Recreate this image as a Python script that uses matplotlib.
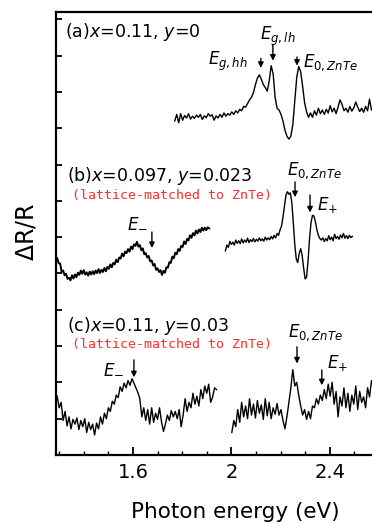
import numpy as np
import matplotlib
matplotlib.use("Agg")
import matplotlib.pyplot as plt
from matplotlib.ticker import FixedLocator, MultipleLocator

# spectra (dR/R, stacked, arbitrary units)
# (a) x=0.11, y=0
a_range = (1.770, 2.578)
a_sig = [9.20, 9.38, 9.15, 9.40, 9.22, 9.35, 9.28, 9.40, 9.25, 9.33,
         9.27, 9.36, 9.30, 9.38, 9.24, 9.34, 9.29, 9.40, 9.33, 9.37,
         9.22, 9.34, 9.28, 9.38, 9.30, 9.42, 9.33, 9.40, 9.36, 9.45,
         9.38, 9.48, 9.42, 9.52, 9.48, 9.60, 9.58, 9.68, 9.78, 9.85,
         9.98, 10.20, 10.38, 10.47, 10.35, 10.20, 10.12, 10.02, 10.30, 10.72,
         10.50, 9.85, 9.55, 9.50, 9.38, 9.20, 8.95, 8.78, 8.70, 8.78,
         9.10, 9.75, 10.40, 10.70, 10.55, 10.15, 9.70, 9.45, 9.30, 9.42,
         9.30, 9.48, 9.36, 9.55, 9.40, 9.50, 9.38, 9.52, 9.42, 9.62,
         9.45, 9.55, 9.40, 9.58, 9.78, 9.66, 9.48, 9.55, 9.44, 9.60,
         9.47, 9.56, 9.72, 9.58, 9.46, 9.55, 9.44, 9.60, 9.48, 9.80,
         9.50, 9.52]

# (b) x=0.097, y=0.023, low-energy part
b1_range = (1.292, 1.910)
b1_sig = [5.42, 5.28, 5.27, 5.04, 5.08, 4.95, 4.99, 4.85, 4.88, 4.81,
          4.95, 4.86, 4.97, 4.90, 5.02, 4.96, 5.08, 4.99, 5.09, 4.97,
          5.03, 4.94, 5.05, 4.97, 5.06, 4.98, 5.08, 5.01, 5.12, 5.01,
          5.10, 5.04, 5.15, 5.06, 5.18, 5.13, 5.25, 5.17, 5.29, 5.25,
          5.38, 5.31, 5.44, 5.41, 5.55, 5.47, 5.60, 5.56, 5.67, 5.60,
          5.74, 5.67, 5.80, 5.76, 5.87, 5.74, 5.78, 5.64, 5.69, 5.53,
          5.56, 5.44, 5.48, 5.33, 5.36, 5.22, 5.26, 5.10, 5.14, 5.04,
          5.09, 4.96, 5.07, 5.02, 5.17, 5.16, 5.31, 5.29, 5.46, 5.42,
          5.57, 5.53, 5.67, 5.62, 5.76, 5.73, 5.88, 5.81, 5.95, 5.91,
          6.05, 5.98, 6.11, 6.05, 6.18, 6.10, 6.21, 6.14, 6.26, 6.18,
          6.26, 6.19, 6.27, 6.24]

# (b) high-energy part
b2_range = (1.976, 2.492)
b2_sig = [5.62, 5.78, 5.72, 5.88, 5.80, 5.86, 5.78, 5.92, 5.83, 5.90,
          5.82, 5.95, 5.84, 5.92, 5.86, 5.97, 5.85, 5.93, 5.88, 5.96,
          5.87, 5.94, 5.89, 5.98, 5.90, 5.95, 5.89, 6.00, 5.92, 5.98,
          5.93, 6.02, 5.95, 6.05, 5.98, 6.10, 6.05, 6.20, 6.30, 6.55,
          6.85, 7.15, 7.25, 7.18, 7.22, 6.95, 6.40, 5.80, 5.40, 5.30,
          5.55, 5.68, 5.50, 5.15, 4.85, 4.90, 5.35, 5.95, 6.40, 6.60,
          6.58, 6.42, 6.20, 6.05, 5.96, 5.92, 5.98, 5.88, 5.96, 5.90,
          6.04, 5.93, 6.00, 5.90, 6.08, 5.96, 6.02, 5.94, 6.06, 5.98,
          6.10, 5.97, 6.04, 5.96, 6.05, 5.99, 6.02]

# (c) x=0.11, y=0.03, low-energy part
c1_range = (1.292, 1.940)
c1_sig = [1.62, 1.30, 1.45, 0.95, 1.20, 0.80, 1.05, 0.72, 0.98, 0.85,
          1.02, 0.70, 0.95, 0.78, 1.00, 0.62, 0.90, 0.70, 0.85, 0.55,
          0.88, 0.72, 1.05, 0.85, 1.15, 1.00, 1.30, 1.20, 1.48, 1.40,
          1.65, 1.58, 1.88, 1.75, 1.98, 1.85, 2.05, 1.92, 2.10, 1.98,
          1.85, 1.72, 1.55, 1.05, 1.30, 0.95, 1.25, 0.85, 1.30, 0.90,
          1.15, 0.98, 1.30, 0.92, 0.65, 0.85, 1.10, 0.95, 1.22, 1.05,
          1.20, 1.00, 1.25, 0.78, 1.10, 1.55, 1.20, 1.45, 1.30, 1.70,
          1.40, 1.62, 1.35, 1.80, 1.55, 1.90, 1.70, 1.95, 1.45, 1.60,
          1.85, 1.80]

# (c) high-energy part
c2_range = (2.002, 2.578)
c2_sig = [0.62, 0.95, 0.78, 1.25, 0.90, 1.45, 1.05, 1.35, 1.00, 1.55,
          1.10, 1.40, 1.02, 1.50, 1.15, 1.38, 0.98, 1.55, 1.08, 1.45,
          1.00, 1.30, 1.12, 1.42, 1.10, 1.25, 0.95, 0.72, 1.05, 1.45,
          1.85, 2.35, 1.90, 2.00, 1.65, 1.35, 1.10, 1.25, 0.98, 1.20,
          1.00, 1.35, 1.30, 1.55, 1.40, 1.65, 1.50, 1.80, 1.55, 1.95,
          1.62, 2.00, 1.40, 1.75, 1.05, 1.60, 1.35, 1.85, 1.30, 1.70,
          1.20, 1.65, 1.40, 1.90, 1.25, 1.75, 1.45, 1.60, 1.30, 1.85,
          1.60, 2.05, 1.85]

xtick_vals = [1.6, 2.0, 2.4]
xtick_labels = ['1.6', '2', '2.4']

fig = plt.figure(figsize=(3.72, 5.24), dpi=100)
ax = fig.add_axes([0.1505, 0.1317, 0.868, 0.8454])

segments = [(a_range, a_sig, 1.0), (b1_range, b1_sig, 1.4), (b2_range, b2_sig, 1.0),
            (c1_range, c1_sig, 1.0), (c2_range, c2_sig, 1.0)]
for rng, sig, lw in segments:
    e = np.linspace(rng[0], rng[1], len(sig))
    ax.plot(e, sig, color='black', lw=lw)

ax.set_xlim(1.287, 2.6)
ax.set_ylim(0, 12.2)

ax.xaxis.set_major_locator(FixedLocator(xtick_vals))
ax.set_xticklabels(xtick_labels)
ax.xaxis.set_minor_locator(MultipleLocator(0.1))
ax.yaxis.set_major_locator(MultipleLocator(1))
ax.set_yticklabels([])
ax.tick_params(axis='x', which='major', direction='in', length=6, width=1.3,
               labelsize=14, pad=6)
ax.tick_params(axis='x', which='minor', direction='in', length=3, width=1.0)
ax.tick_params(axis='y', direction='in', length=4, width=1.3)
for s in ['left', 'top', 'bottom']:
    ax.spines[s].set_linewidth(1.6)
ax.spines['right'].set_visible(False)

# panel labels
ax.text(1.324, 11.52, '(a)$x$=0.11, $y$=0', fontsize=12.5, va='baseline')
ax.text(1.332, 7.55, '(b)$x$=0.097, $y$=0.023', fontsize=12.5, va='baseline')
ax.text(1.352, 7.05, '(lattice-matched to ZnTe)', fontsize=9.5, va='baseline',
        color='#ff2a2a', family='DejaVu Sans Mono')
ax.text(1.332, 3.42, '(c)$x$=0.11, $y$=0.03', fontsize=12.5, va='baseline')
ax.text(1.352, 2.95, '(lattice-matched to ZnTe)', fontsize=9.5, va='baseline',
        color='#ff2a2a', family='DejaVu Sans Mono')

# transition labels and arrows
def mark(tx, ty, label, x, y0, y1):
    ax.text(tx, ty, label, fontsize=12, va='baseline')
    ax.annotate('', xy=(x, y1), xytext=(x, y0),
                arrowprops=dict(arrowstyle='-|>', color='black', lw=1.0,
                                mutation_scale=8, shrinkA=0, shrinkB=0))

mark(1.905, 10.74, r'$E_{\mathit{g,hh}}$', 2.120, 10.92, 10.66)
mark(2.116, 11.43, r'$E_{\mathit{g,lh}}$', 2.169, 11.30, 10.86)
mark(2.291, 10.69, r'$E_{\mathit{0,ZnTe}}$', 2.267, 10.96, 10.72)
mark(2.226, 7.71, r'$E_{\mathit{0,ZnTe}}$', 2.259, 7.52, 7.10)
mark(2.348, 6.75, r'$E_{+}$', 2.320, 7.16, 6.68)
mark(1.576, 6.28, r'$E_{-}$', 1.677, 6.14, 5.70)
mark(1.478, 2.26, r'$E_{-}$', 1.604, 2.62, 2.14)
mark(2.230, 3.25, r'$E_{\mathit{0,ZnTe}}$', 2.267, 2.98, 2.52)
mark(2.389, 2.40, r'$E_{+}$', 2.368, 2.34, 1.92)

fig.text(27 / 372, 1 - 232 / 524, r'$\Delta$R/R', rotation=90, fontsize=17,
         ha='center', va='center')
fig.text(235 / 372, 1 - 518 / 524, 'Photon energy (eV)', fontsize=15.5,
         ha='center', va='baseline')

fig.savefig('out.png', dpi=100)
